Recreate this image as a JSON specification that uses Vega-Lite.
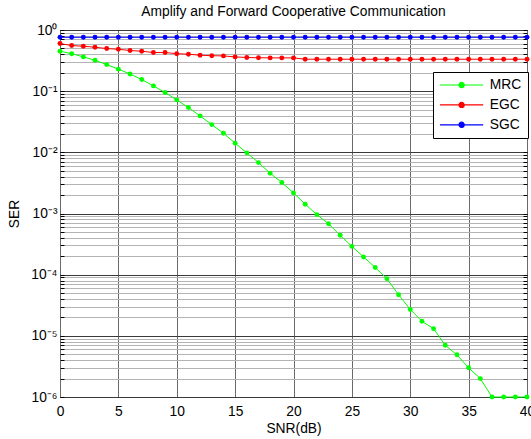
{
  "$schema": "https://vega.github.io/schema/vega-lite/v6.json",
  "autosize": "none",
  "width": 467,
  "height": 367,
  "padding": {"left": 60, "top": 30, "right": 4, "bottom": 42},
  "background": "white",
  "config": {
    "font": "Liberation Sans",
    "view": {"stroke": "black", "strokeWidth": 1},
    "axis": {"labelFont": "Liberation Sans", "titleFont": "Liberation Sans", "labelColor": "black", "titleColor": "black", "titleFontWeight": "normal", "labelFontSize": 13.8, "titleFontSize": 13.8}
  },
  "title": {"text": "Amplify and Forward Cooperative Communication", "fontSize": 13.8, "fontWeight": "normal", "font": "Liberation Sans", "color": "black", "anchor": "middle", "offset": 4},
  "data": {"values": [
    {"snr":0,"ser":0.45,"scheme":"MRC"},{"snr":1,"ser":0.41,"scheme":"MRC"},{"snr":2,"ser":0.363,"scheme":"MRC"},{"snr":3,"ser":0.32,"scheme":"MRC"},{"snr":4,"ser":0.272,"scheme":"MRC"},{"snr":5,"ser":0.229,"scheme":"MRC"},{"snr":6,"ser":0.191,"scheme":"MRC"},{"snr":7,"ser":0.155,"scheme":"MRC"},{"snr":8,"ser":0.122,"scheme":"MRC"},{"snr":9,"ser":0.095,"scheme":"MRC"},{"snr":10,"ser":0.072,"scheme":"MRC"},{"snr":11,"ser":0.054,"scheme":"MRC"},{"snr":12,"ser":0.0394,"scheme":"MRC"},{"snr":13,"ser":0.0284,"scheme":"MRC"},{"snr":14,"ser":0.0205,"scheme":"MRC"},{"snr":15,"ser":0.0141,"scheme":"MRC"},{"snr":16,"ser":0.0098,"scheme":"MRC"},{"snr":17,"ser":0.0068,"scheme":"MRC"},{"snr":18,"ser":0.00455,"scheme":"MRC"},{"snr":19,"ser":0.00321,"scheme":"MRC"},{"snr":20,"ser":0.00217,"scheme":"MRC"},{"snr":21,"ser":0.00142,"scheme":"MRC"},{"snr":22,"ser":0.00096,"scheme":"MRC"},{"snr":23,"ser":0.00068,"scheme":"MRC"},{"snr":24,"ser":0.00044,"scheme":"MRC"},{"snr":25,"ser":0.00029,"scheme":"MRC"},{"snr":26,"ser":0.000195,"scheme":"MRC"},{"snr":27,"ser":0.000131,"scheme":"MRC"},{"snr":28,"ser":0.000086,"scheme":"MRC"},{"snr":29,"ser":0.000047,"scheme":"MRC"},{"snr":30,"ser":0.000027,"scheme":"MRC"},{"snr":31,"ser":0.0000173,"scheme":"MRC"},{"snr":32,"ser":0.0000131,"scheme":"MRC"},{"snr":33,"ser":0.000007,"scheme":"MRC"},{"snr":34,"ser":0.0000049,"scheme":"MRC"},{"snr":35,"ser":0.000003,"scheme":"MRC"},{"snr":36,"ser":0.000002,"scheme":"MRC"},{"snr":37,"ser":0.000001,"scheme":"MRC"},{"snr":38,"ser":0.000001,"scheme":"MRC"},{"snr":39,"ser":0.000001,"scheme":"MRC"},{"snr":40,"ser":0.000001,"scheme":"MRC"},
    {"snr":0,"ser":0.6,"scheme":"EGC"},{"snr":1,"ser":0.557,"scheme":"EGC"},{"snr":2,"ser":0.543,"scheme":"EGC"},{"snr":3,"ser":0.523,"scheme":"EGC"},{"snr":4,"ser":0.497,"scheme":"EGC"},{"snr":5,"ser":0.485,"scheme":"EGC"},{"snr":6,"ser":0.462,"scheme":"EGC"},{"snr":7,"ser":0.45,"scheme":"EGC"},{"snr":8,"ser":0.428,"scheme":"EGC"},{"snr":9,"ser":0.428,"scheme":"EGC"},{"snr":10,"ser":0.41,"scheme":"EGC"},{"snr":11,"ser":0.402,"scheme":"EGC"},{"snr":12,"ser":0.387,"scheme":"EGC"},{"snr":13,"ser":0.38,"scheme":"EGC"},{"snr":14,"ser":0.377,"scheme":"EGC"},{"snr":15,"ser":0.363,"scheme":"EGC"},{"snr":16,"ser":0.355,"scheme":"EGC"},{"snr":17,"ser":0.352,"scheme":"EGC"},{"snr":18,"ser":0.35,"scheme":"EGC"},{"snr":19,"ser":0.35,"scheme":"EGC"},{"snr":20,"ser":0.35,"scheme":"EGC"},{"snr":21,"ser":0.333,"scheme":"EGC"},{"snr":22,"ser":0.333,"scheme":"EGC"},{"snr":23,"ser":0.333,"scheme":"EGC"},{"snr":24,"ser":0.333,"scheme":"EGC"},{"snr":25,"ser":0.333,"scheme":"EGC"},{"snr":26,"ser":0.333,"scheme":"EGC"},{"snr":27,"ser":0.333,"scheme":"EGC"},{"snr":28,"ser":0.333,"scheme":"EGC"},{"snr":29,"ser":0.333,"scheme":"EGC"},{"snr":30,"ser":0.333,"scheme":"EGC"},{"snr":31,"ser":0.333,"scheme":"EGC"},{"snr":32,"ser":0.333,"scheme":"EGC"},{"snr":33,"ser":0.333,"scheme":"EGC"},{"snr":34,"ser":0.333,"scheme":"EGC"},{"snr":35,"ser":0.333,"scheme":"EGC"},{"snr":36,"ser":0.333,"scheme":"EGC"},{"snr":37,"ser":0.333,"scheme":"EGC"},{"snr":38,"ser":0.333,"scheme":"EGC"},{"snr":39,"ser":0.333,"scheme":"EGC"},{"snr":40,"ser":0.333,"scheme":"EGC"},
    {"snr":0,"ser":0.76,"scheme":"SGC"},{"snr":1,"ser":0.76,"scheme":"SGC"},{"snr":2,"ser":0.76,"scheme":"SGC"},{"snr":3,"ser":0.76,"scheme":"SGC"},{"snr":4,"ser":0.76,"scheme":"SGC"},{"snr":5,"ser":0.76,"scheme":"SGC"},{"snr":6,"ser":0.76,"scheme":"SGC"},{"snr":7,"ser":0.76,"scheme":"SGC"},{"snr":8,"ser":0.76,"scheme":"SGC"},{"snr":9,"ser":0.76,"scheme":"SGC"},{"snr":10,"ser":0.76,"scheme":"SGC"},{"snr":11,"ser":0.76,"scheme":"SGC"},{"snr":12,"ser":0.76,"scheme":"SGC"},{"snr":13,"ser":0.76,"scheme":"SGC"},{"snr":14,"ser":0.76,"scheme":"SGC"},{"snr":15,"ser":0.76,"scheme":"SGC"},{"snr":16,"ser":0.76,"scheme":"SGC"},{"snr":17,"ser":0.76,"scheme":"SGC"},{"snr":18,"ser":0.76,"scheme":"SGC"},{"snr":19,"ser":0.76,"scheme":"SGC"},{"snr":20,"ser":0.76,"scheme":"SGC"},{"snr":21,"ser":0.76,"scheme":"SGC"},{"snr":22,"ser":0.76,"scheme":"SGC"},{"snr":23,"ser":0.76,"scheme":"SGC"},{"snr":24,"ser":0.76,"scheme":"SGC"},{"snr":25,"ser":0.76,"scheme":"SGC"},{"snr":26,"ser":0.76,"scheme":"SGC"},{"snr":27,"ser":0.76,"scheme":"SGC"},{"snr":28,"ser":0.76,"scheme":"SGC"},{"snr":29,"ser":0.76,"scheme":"SGC"},{"snr":30,"ser":0.76,"scheme":"SGC"},{"snr":31,"ser":0.76,"scheme":"SGC"},{"snr":32,"ser":0.76,"scheme":"SGC"},{"snr":33,"ser":0.76,"scheme":"SGC"},{"snr":34,"ser":0.76,"scheme":"SGC"},{"snr":35,"ser":0.76,"scheme":"SGC"},{"snr":36,"ser":0.76,"scheme":"SGC"},{"snr":37,"ser":0.76,"scheme":"SGC"},{"snr":38,"ser":0.76,"scheme":"SGC"},{"snr":39,"ser":0.76,"scheme":"SGC"},{"snr":40,"ser":0.76,"scheme":"SGC"}
  ]},
  "resolve": {"axis": {"y": "independent"}},
  "layer": [
    {
      "mark": {"type": "line", "strokeWidth": 1, "clip": false, "point": {"filled": true, "shape": "circle", "size": 24, "opacity": 1}},
      "encoding": {
        "x": {"field": "snr", "type": "quantitative", "title": "SNR(dB)",
          "scale": {"domain": [0, 40], "nice": false},
          "axis": {"values": [0,5,10,15,20,25,30,35,40], "grid": true, "gridColor": "#6a6a6a", "gridWidth": 1, "domain": false, "ticks": false, "labelPadding": 7, "titlePadding": 4, "labelFlush": false}},
        "y": {"field": "ser", "type": "quantitative", "title": "SER",
          "scale": {"type": "log", "domain": [0.000001, 1], "nice": false},
          "axis": {
            "orient": "left",
            "values": [0.000001,0.000002,0.000003,0.000004,0.000005,0.000006,0.000007,0.000008,0.000009,0.00001,0.00002,0.00003,0.00004,0.00005,0.00006,0.00007,0.00008,0.00009,0.0001,0.0002,0.0003,0.0004,0.0005,0.0006,0.0007,0.0008,0.0009,0.001,0.002,0.003,0.004,0.005,0.006,0.007,0.008,0.009,0.01,0.02,0.03,0.04,0.05,0.06,0.07,0.08,0.09,0.1,0.2,0.3,0.4,0.5,0.6,0.7,0.8,0.9,1],
            "labelExpr": "abs(log(datum.value)/LN10 - round(log(datum.value)/LN10)) < 0.001 ? '10' + ['⁰','⁻¹','⁻²','⁻³','⁻⁴','⁻⁵','⁻⁶'][-round(log(datum.value)/LN10)] : ''",
            "grid": true,
            "gridColor": {"condition": {"test": "abs(log(datum.value)/LN10 - round(log(datum.value)/LN10)) < 0.001", "value": "#3a3a3a"}, "value": "#b4b4b4"},
            "domain": false, "ticks": true, "tickSize": -4, "tickColor": "black", "tickWidth": 1, "labelPadding": 7, "titlePadding": 9, "labelFlush": false, "labelOverlap": false, "labelBaseline": "middle"}},
        "color": {"field": "scheme", "type": "nominal",
          "scale": {"domain": ["MRC", "EGC", "SGC"], "range": ["#00ff00", "#ff0000", "#0000ff"]},
          "legend": {"title": null, "orient": "none", "legendX": 373, "legendY": 42,
            "symbolType": "M-1,0L6.2,0M2.17,0A0.43,0.43,0,1,0,3.03,0A0.43,0.43,0,1,0,2.17,0Z",
            "symbolSize": 144, "symbolStrokeWidth": 1.2,
            "labelFontSize": 13.8, "labelFont": "Liberation Sans", "labelColor": "black", "labelOffset": 36.8,
            "strokeColor": "black", "fillColor": "white", "padding": 6, "rowPadding": 5.9,
            "encode": {"symbols": {"update": {"fill": {"scale": "color", "field": "value"}, "stroke": {"scale": "color", "field": "value"}, "opacity": {"value": 1}}}}}}
      }
    },
    {
      "mark": {"type": "point", "opacity": 0},
      "encoding": {
        "x": {"field": "snr", "type": "quantitative", "scale": {"domain": [0, 40], "nice": false}},
        "y": {"field": "ser", "type": "quantitative",
          "scale": {"type": "log", "domain": [0.000001, 1], "nice": false},
          "axis": {"orient": "right", "title": null, "labels": false, "grid": false, "domain": false, "ticks": true, "tickSize": -4, "tickColor": "black", "tickWidth": 1,
            "values": [0.000001,0.000002,0.000003,0.000004,0.000005,0.000006,0.000007,0.000008,0.000009,0.00001,0.00002,0.00003,0.00004,0.00005,0.00006,0.00007,0.00008,0.00009,0.0001,0.0002,0.0003,0.0004,0.0005,0.0006,0.0007,0.0008,0.0009,0.001,0.002,0.003,0.004,0.005,0.006,0.007,0.008,0.009,0.01,0.02,0.03,0.04,0.05,0.06,0.07,0.08,0.09,0.1,0.2,0.3,0.4,0.5,0.6,0.7,0.8,0.9,1]}}
      }
    }
  ]
}
